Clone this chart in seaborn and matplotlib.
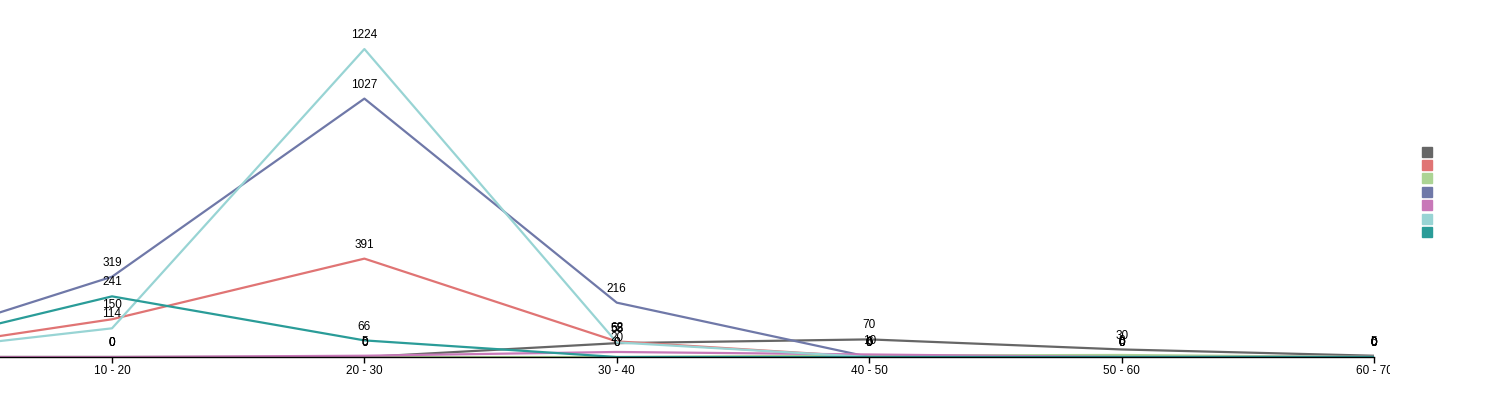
import pandas as pd
import numpy as np
import seaborn as sns
import matplotlib.pyplot as plt
from matplotlib.lines import Line2D
from matplotlib.transforms import Bbox

# categories (the first one sits just left of the visible area)
ranges = ['0 - 10', '10 - 20', '20 - 30', '30 - 40', '40 - 50', '50 - 60', '60 - 70']

# series values
s_gray = [0, 0, 0, 55, 70, 30, 5]
s_red = [0, 150, 391, 62, 0, 0, 0]
s_green = [0, 0, 0, 0, 6, 8, 0]
s_blue = [0, 319, 1027, 216, 0, 0, 0]
s_pink = [0, 0, 5, 20, 10, 0, 0]
s_cyan = [0, 114, 1224, 58, 0, 0, 0]
s_teal = [0, 241, 66, 0, 0, 0, 0]

series_names = ['gray', 'red', 'green', 'blue', 'pink', 'cyan', 'teal']
series_vals = [s_gray, s_red, s_green, s_blue, s_pink, s_cyan, s_teal]
colors = ['#666666', '#e07474', '#acd494', '#6f78a8', '#c878b8', '#98d4d4', '#2a9c98']

rows = []
for name, vals in zip(series_names, series_vals):
    for r, v in zip(ranges, vals):
        rows.append({'range': r, 'series': name, 'value': v})
df = pd.DataFrame(rows)

sns.set_theme(style='white')
plt.rcParams['font.family'] = ['Liberation Sans', 'DejaVu Sans']

W, H = 1498, 420
fig = plt.figure(figsize=(W / 100, H / 100), dpi=100)
# plot area: left edge at 0px, right at 1374px, baseline at 357px, top at 20px
ax = fig.add_axes([0, (H - 357) / H, 1374 / W, 337 / H])

sns.lineplot(data=df, x='range', y='value', hue='series', hue_order=series_names,
             palette=colors, linewidth=1.6, legend=False, ax=ax, sort=False)

# value labels above each point
for name, vals in zip(series_names, series_vals):
    for i, v in enumerate(vals):
        ax.annotate(str(v), (i, v), xytext=(0, 10), textcoords='offset points',
                    ha='center', va='center', fontsize=8.5, color='black')

ax.set_ylim(0, 337 / 0.2516)
ax.set_xlim(1 - 112 / 252.4, 6)
ax.set_xlabel('')
ax.set_ylabel('')
ax.set_yticks([])
for s in ['top', 'right', 'left']:
    ax.spines[s].set_visible(False)
ax.spines['bottom'].set_color('black')
ax.spines['bottom'].set_linewidth(1)
ax.tick_params(axis='x', bottom=True, length=4, width=1, color='black',
               labelsize=8.5, pad=2, labelcolor='black')

# legend: coloured squares only
handles = [Line2D([], [], marker='s', linestyle='', markersize=7.5, color=c) for c in colors]
fig.legend(handles, [''] * len(handles), loc='center',
           bbox_to_anchor=(1427 / W, 1 - 193 / H), frameon=False,
           handlelength=0.6, handletextpad=0, labelspacing=0.12, fontsize=8.5,
           borderpad=0)

# last tick label is cut off at the right
fig.canvas.draw()
clip = Bbox.from_extents(0, 0, 1390, H)
for lab in ax.get_xticklabels():
    lab.set_clip_on(True)
    lab.set_clip_box(clip)

fig.savefig('out.png', dpi=100)
